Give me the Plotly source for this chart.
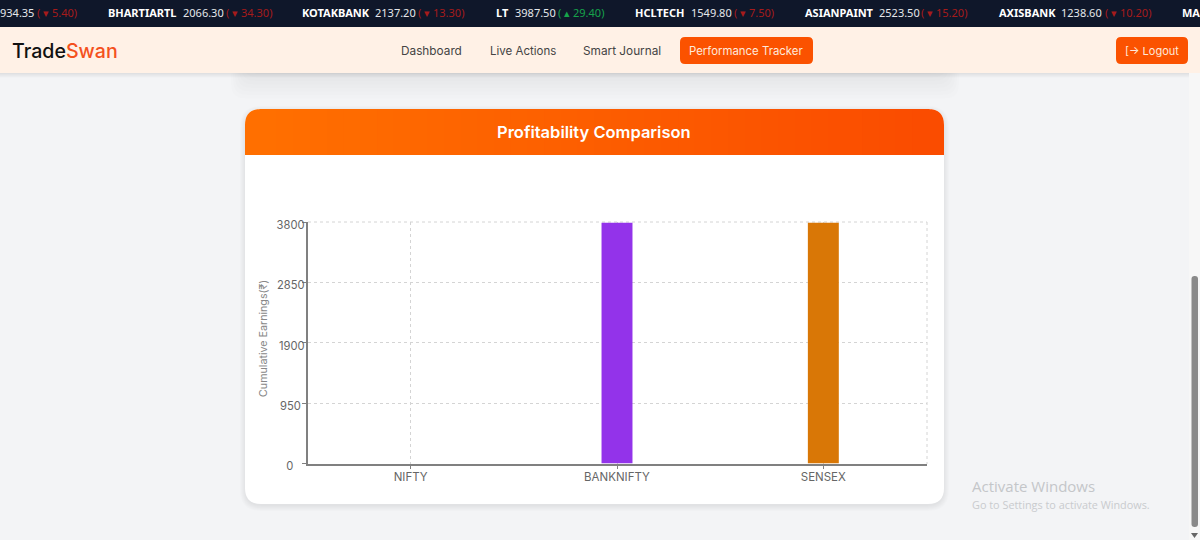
import plotly.graph_objects as go

categories = ["NIFTY", "BANKNIFTY", "SENSEX"]
earnings = [0, 3790, 3790]
bar_colors = ["#22c55e", "#9333ea", "#d97706"]
y_ticks = [0, 950, 1900, 2850, 3800]
y_tick_labels = ["0\u2002\u2002", "950\u2004", "1900", "2850", "3800"]

ticker_names = ["BHARTIARTL", "KOTAKBANK", "LT", "HCLTECH", "ASIANPAINT", "AXISBANK", "MA"]
ticker_prices = ["2066.30", "2137.20", "3987.50", "1549.80", "2523.50", "1238.60", ""]
ticker_changes = ["( ▾ 34.30)", "( ▾ 13.30)", "( ▴ 29.40)", "( ▾ 7.50)", "( ▾ 15.20)", "( ▾ 10.20)", ""]
ticker_name_x = [108, 302, 496, 635, 805, 999, 1182]
ticker_price_x = [183, 375, 515, 691, 879, 1061, 0]
ticker_change_x = [226, 418, 558, 734, 921, 1105, 0]

W, H = 1200, 540
def px(x): return x / W
def py(y): return 1 - y / H

shapes, annos = [], []

def rect(x0, y0, x1, y1, color, opacity=1):
    shapes.append(dict(type="rect", xref="paper", yref="paper", x0=px(x0), x1=px(x1), y0=py(y0), y1=py(y1),
                       fillcolor=color, opacity=opacity, line_width=0, layer="below"))

def rrect(x0, y0, x1, y1, r, color, opacity=1, rt=None, rb=None):
    rt = r if rt is None else rt
    rb = r if rb is None else rb
    p = (f"M {px(x0+rt)} {py(y0)} L {px(x1-rt)} {py(y0)} Q {px(x1)} {py(y0)} {px(x1)} {py(y0+rt)} "
         f"L {px(x1)} {py(y1-rb)} Q {px(x1)} {py(y1)} {px(x1-rb)} {py(y1)} "
         f"L {px(x0+rb)} {py(y1)} Q {px(x0)} {py(y1)} {px(x0)} {py(y1-rb)} "
         f"L {px(x0)} {py(y0+rt)} Q {px(x0)} {py(y0)} {px(x0+rt)} {py(y0)} Z")
    shapes.append(dict(type="path", xref="paper", yref="paper", path=p, fillcolor=color,
                       opacity=opacity, line_width=0, layer="below"))

def text(x, y, s, size, color, anchor="left", family="Inter", weight=None, **kw):
    f = dict(size=size, color=color, family=family)
    if weight:
        f["weight"] = weight
    annos.append(dict(x=px(x), y=py(y), xref="paper", yref="paper", text=s, showarrow=False,
                      xanchor=anchor, yanchor="middle", borderpad=0, borderwidth=0, font=f, **kw))

# soft shadow of the cards above
for i in range(8):
    rrect(245 - i * 2, 60, 945 + i * 2, 74 + i * 3.5, 14, "#000000", 0.007)

# nav shadow
for i in range(4):
    rect(0, 73, 1189, 74 + i * 1.2, "#000000", 0.02)

# card with shadow
for i in range(6):
    rrect(245 - i, 109 - i + 2, 944 + i, 504 + i + 2, 16 + i, "#000000", 0.012)
rrect(245, 109, 944, 504, 16, "#ffffff")

# header with gradient
c0, c1 = (255, 111, 0), (250, 76, 0)
rrect(245, 109, 275, 155, 16, f"rgb{c0}", rb=0)
rrect(914, 109, 944, 155, 16, f"rgb{c1}", rb=0)
sx0, sx1 = 260, 929
n = 40
for i in range(n):
    t = i / (n - 1)
    c = tuple(round(a + (b - a) * t) for a, b in zip(c0, c1))
    rect(sx0 + (sx1 - sx0) * i / n, 109, sx1 if i == n - 1 else sx0 + (sx1 - sx0) * (i + 1) / n + 3, 155, f"rgb{c}")
text(594, 132, "Profitability Comparison", 16.5, "#ffffff", "center", weight=600)

# ticker bar and nav
rect(0, 0, W, 27, "#0f172a")
rect(0, 27, W, 73, "#fff1e6")

# scrollbar
rect(1189, 73, W, H, "#f7f7f7")
rrect(1191.5, 276, 1198, 527, 3, "#8a8a8a")
shapes.append(dict(type="path", xref="paper", yref="paper",
                   path=f"M {px(1191)} {py(533)} L {px(1198)} {py(533)} L {px(1194.5)} {py(538)} Z",
                   fillcolor="#666666", line_width=0, layer="below"))

# nav content
text(12, 51, "Trade<span style='color:#f4511e'>Swan</span>", 19.6, "#111111", weight=500)
text(431, 50.5, "Dashboard", 11.8, "#444444", "center")
text(522.5, 50.5, "Live Actions", 11.5, "#444444", "center")
text(622, 50.5, "Smart Journal", 11.8, "#444444", "center")
rrect(680, 37, 813, 64, 5, "#fb5200")
text(746, 50.5, "Performance Tracker", 11.4, "#ffe9dc", "center")
rrect(1116, 37, 1188, 64, 5, "#fb5200")
text(1152, 50.5, "[→ Logout", 11, "#ffe9dc", "center")

# ticker text
TF = "Noto Sans"
RED, GREEN = "#a61b1b", "#16a34a"
text(0, 13, "934.35", 11, "#e5e7eb", family=TF)
text(37, 13, "( ▾ 5.40)", 11, RED, family=TF)
for name, price, change, nx, qx, cx in zip(ticker_names, ticker_prices, ticker_changes,
                                           ticker_name_x, ticker_price_x, ticker_change_x):
    text(nx, 13, f"<b>{name}</b>", 11, "#ffffff", family=TF)
    if price:
        text(qx, 13, price, 11, "#e5e7eb", family=TF)
        text(cx, 13, change, 11, GREEN if "▴" in change else RED, family=TF)

# watermark
text(972, 485.5, "Activate Windows", 15, "#c4c6c9", family="Open Sans")
text(972, 504, "Go to Settings to activate Windows.", 10.85, "#c9cbce", family="Open Sans")

# y axis title
text(263, 339, "Cumulative Earnings(₹)", 10.7, "#888888", "center", textangle=-90)

# top and right edges of the chart grid
GRID = "#d4d4d4"
shapes.append(dict(type="line", xref="paper", yref="paper", x0=px(927), x1=px(927), y0=py(222), y1=py(464),
                   line=dict(color=GRID, width=1, dash="3px,3px"), layer="below"))
shapes.append(dict(type="line", xref="paper", yref="paper", x0=px(308), x1=px(927), y0=py(222), y1=py(222),
                   line=dict(color=GRID, width=1, dash="3px,3px"), layer="below"))

fig = go.Figure(go.Bar(x=categories, y=earnings, marker=dict(color=bar_colors, line_width=0),
                       hoverinfo="x+y", showlegend=False))

fig.update_layout(
    width=W, height=H, margin=dict(l=0, r=0, t=0, b=0, autoexpand=False), autosize=False,
    paper_bgcolor="#f3f4f6", plot_bgcolor="rgba(0,0,0,0)",
    bargap=0.85, shapes=shapes, annotations=annos,
    font=dict(family="Inter", color="#666666"),
    xaxis=dict(domain=[px(307.5), px(926.5)], anchor="y", type="category", range=[-0.5, 2.5],
               showgrid=True, gridcolor=GRID, griddash="3px,3px", gridwidth=1,
               showline=True, linecolor="#808080", linewidth=1.5,
               ticks="outside", ticklen=4, tickcolor="#808080", tickwidth=1, ticklabelstandoff=-2,
               tickfont=dict(size=11.5, color="#666666"), fixedrange=True),
    yaxis=dict(domain=[py(463.5), py(222)], anchor="x", range=[0, 3800],
               tickvals=y_ticks, ticktext=y_tick_labels,
               showgrid=True, gridcolor=GRID, griddash="3px,3px", gridwidth=1, zeroline=False,
               showline=True, linecolor="#808080", linewidth=1.5,
               ticks="outside", ticklen=4, tickcolor="#808080", tickwidth=1, ticklabelshift=3,
               ticklabelstandoff=-5,
               tickfont=dict(size=11.2, color="#666666"), fixedrange=True),
)

fig.write_html("out.html", config=dict(displayModeBar=False),
               post_script="document.body.style.margin='0';document.body.style.overflow='hidden';document.body.style.background='#f3f4f6';")
